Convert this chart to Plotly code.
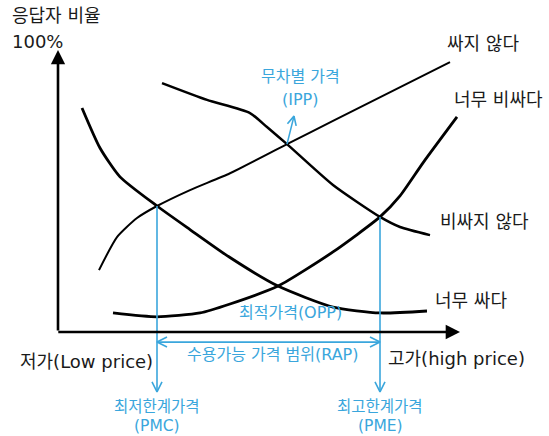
import math
import plotly.graph_objects as go

# ---- data (price index on x, share of respondents % on y) ----
too_cheap_x = [6, 10.5, 15.5, 24.75, 33, 43, 55, 68.75, 80.5, 92.25]
too_cheap_y = [80, 65.7, 55.4, 45, 36.6, 26.6, 16.4, 8.9, 6.8, 7.5]

not_cheap_x = [10.25, 14.75, 19.75, 24.75, 33, 43, 57.25, 68.75, 98]
not_cheap_y = [22.1, 33.9, 40.7, 45, 50.7, 56.7, 67.1, 75.4, 96.4]

too_exp_x = [13.75, 24.75, 35.5, 43, 55, 68.75, 80.5, 85.5, 91.25, 99.75]
too_exp_y = [6.8, 5.4, 6.8, 10, 16.4, 28.6, 41.1, 48.6, 60.4, 76.8]

not_exp_x = [26, 37.25, 48, 52.25, 57.25, 68.75, 80.5, 85.5, 93]
not_exp_y = [88.9, 82.9, 78.2, 73.2, 67.1, 52.5, 41.1, 37.5, 34.6]

# key price points (x, y)
pmc = (24.75, 45)
ipp = (57.25, 67.1)
opp = (55, 16.4)
pme = (80.5, 41.1)

BLUE = '#3aa6dc'
INK = '#1a1a1a'
FONT = 'DejaVu Sans, Noto Sans CJK KR'

# pixel <-> data helpers (figure is drawn with zero margins)
W, H = 549, 436
X0, X1 = -14.5, 122.75
Y0, Y1 = -37.14, 118.57
SX = W / (X1 - X0)
SY = H / (Y1 - Y0)


def chevron(tip, tail, size=10, half=5):
    # open "V" arrow head at tip, pointing away from tail
    dx = (tip[0] - tail[0]) * SX
    dy = (tip[1] - tail[1]) * SY
    n = math.hypot(dx, dy)
    ux, uy = dx / n, dy / n
    px, py = -uy, ux
    a = (tip[0] + (-ux * size + px * half) / SX, tip[1] + (-uy * size + py * half) / SY)
    b = (tip[0] + (-ux * size - px * half) / SX, tip[1] + (-uy * size - py * half) / SY)
    return [a[0], tip[0], b[0]], [a[1], tip[1], b[1]]


fig = go.Figure()

curves = [
    (too_cheap_x, too_cheap_y, 2.8),
    (not_cheap_x, not_cheap_y, 2.0),
    (too_exp_x, too_exp_y, 2.8),
    (not_exp_x, not_exp_y, 2.5),
]
for cx, cy, w in curves:
    fig.add_trace(go.Scatter(x=cx, y=cy, mode='lines',
                             line=dict(color='black', width=w, shape='spline', smoothing=0.6),
                             hoverinfo='skip', showlegend=False))

# blue guide lines
bottom = -21.4
rap_y = -3.6
blue_lines = [
    ([pmc[0], pmc[0]], [pmc[1], bottom]),
    ([pme[0], pme[0]], [pme[1], bottom]),
    ([pmc[0], pme[0]], [rap_y, rap_y]),
    ([ipp[0], 59.0], [ipp[1], 77.1]),
]
for lx, ly in blue_lines:
    fig.add_trace(go.Scatter(x=lx, y=ly, mode='lines', line=dict(color=BLUE, width=1.6),
                             hoverinfo='skip', showlegend=False))

heads = [
    chevron((pmc[0], bottom), (pmc[0], 0)),
    chevron((pme[0], bottom), (pme[0], 0)),
    chevron((pmc[0], rap_y), (pme[0], rap_y)),
    chevron((pme[0], rap_y), (pmc[0], rap_y)),
    chevron((59.0, 77.1), ipp, size=9, half=4.5),
]
for hx, hy in heads:
    fig.add_trace(go.Scatter(x=hx, y=hy, mode='lines', line=dict(color=BLUE, width=1.6),
                             hoverinfo='skip', showlegend=False))

annotations = []

# axes with filled arrow heads
annotations.append(dict(x=0, y=100.7, ax=0, ay=0, xref='x', yref='y', axref='x', ayref='y',
                        text='', showarrow=True, arrowhead=2, arrowsize=1.1,
                        arrowwidth=2.6, arrowcolor='black'))
annotations.append(dict(x=100.5, y=0, ax=-0.3, ay=0, xref='x', yref='y', axref='x', ayref='y',
                        text='', showarrow=True, arrowhead=2, arrowsize=1.1,
                        arrowwidth=2.6, arrowcolor='black'))


def label(x, y, text, color=INK, size=18, anchor='left'):
    annotations.append(dict(x=x, y=y, xref='x', yref='y', text=text, showarrow=False,
                            xanchor=anchor, yanchor='middle',
                            font=dict(family=FONT, size=size, color=color)))


label(-12, 112.9, '응답자 비율')
label(-12, 103.6, '100%')
label(96.75, 103.2, '싸지 않다')
label(98.5, 82.9, '너무 비싸다')
label(95, 39.3, '비싸지 않다')
label(93.75, 11.4, '너무 싸다')
label(-10, -10.7, '저가(Low price)')
label(82, -9.3, '고가(high price)')

label(60.5, 91.1, '무차별 가격', BLUE, 16, 'center')
label(60.5, 82.9, '(IPP)', BLUE, 16, 'center')
label(58, 6.8, '최적가격(OPP)', BLUE, 16, 'center')
label(53.5, -7.9, '수용가능 가격 범위(RAP)', BLUE, 16, 'center')
label(pmc[0], -26.8, '최저한계가격', BLUE, 15.5, 'center')
label(pmc[0], -33.6, '(PMC)', BLUE, 15.5, 'center')
label(pme[0], -26.8, '최고한계가격', BLUE, 15.5, 'center')
label(pme[0], -33.6, '(PME)', BLUE, 15.5, 'center')

fig.update_layout(
    width=W, height=H,
    margin=dict(l=0, r=0, t=0, b=0),
    plot_bgcolor='white',
    paper_bgcolor='white',
    xaxis=dict(range=[X0, X1], visible=False, fixedrange=True),
    yaxis=dict(range=[Y0, Y1], visible=False, fixedrange=True),
    annotations=annotations,
    showlegend=False,
)

# page has a default 8px body margin; drop it so the chart sits at the top-left corner
fig.write_html("out.html", config={'displayModeBar': False},
               post_script="document.body.style.margin='0';document.body.style.overflow='hidden';")
